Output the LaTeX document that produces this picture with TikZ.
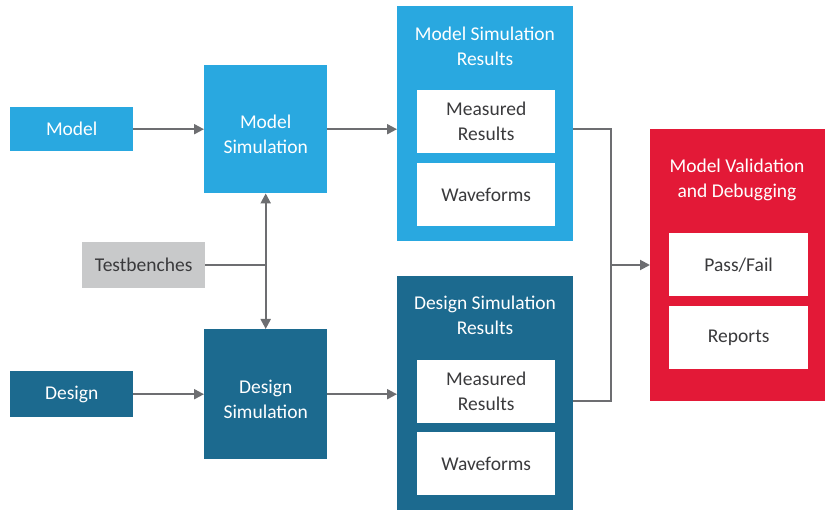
\documentclass[tikz,border=0pt]{standalone}
\usepackage{fontspec}
\setmainfont{Carlito}
\usetikzlibrary{arrows.meta}
\definecolor{lblue}{HTML}{29A8E0}
\definecolor{dblue}{HTML}{1C6A8F}
\definecolor{vred}{HTML}{E31937}
\definecolor{lgray}{HTML}{C8C9CA}
\definecolor{agray}{HTML}{6D6E71}
\definecolor{tgray}{HTML}{3A3A3C}
\tikzset{
  box/.style={rectangle, inner sep=0pt, anchor=north west, align=center, font=\fontsize{19.5}{25}\selectfont},
  lbox/.style={box, fill=lblue, text=white},
  dbox/.style={box, fill=dblue, text=white},
  gbox/.style={box, fill=lgray, text=tgray},
  wbox/.style={box, fill=white, text=tgray},
  title/.style={align=center, text=white, font=\fontsize{19.5}{25}\selectfont},
  simtext/.style={label={[title, yshift=-5pt]center:#1}},
  conn/.style={draw=agray, line width=2pt, -{Triangle[length=10pt,width=10pt]}},
  wire/.style={draw=agray, line width=2pt}
}
\begin{document}
\begin{tikzpicture}[x=1pt,y=-1pt]
	\useasboundingbox (0,0) rectangle (825,510);

	% inputs
	\node[lbox, minimum width=123pt, minimum height=44pt] (model) at (10,107) {Model};
	\node[gbox, minimum width=123pt, minimum height=46pt] (tb) at (82,242) {Testbenches};
	\node[dbox, minimum width=123pt, minimum height=46pt] (design) at (10,371) {Design};

	% simulations
	\node[lbox, minimum width=123pt, minimum height=128pt, simtext={Model\\Simulation}] (msim) at (204,65) {};
	\node[dbox, minimum width=123pt, minimum height=130pt, simtext={Design\\Simulation}] (dsim) at (204,329) {};

	% results
	\node[lbox, minimum width=176pt, minimum height=235pt] (msr) at (397,6) {};
	\node[title] (msrt) at (485,46) {Model Simulation\\Results};
	\node[wbox, minimum width=138pt, minimum height=63pt] (mmeas) at (417,90) {Measured\\Results};
	\node[wbox, minimum width=138pt, minimum height=63pt] (mwave) at (417,163) {Waveforms};

	\node[dbox, minimum width=176pt, minimum height=234pt] (dsr) at (397,276) {};
	\node[title] (dsrt) at (485,315) {Design Simulation\\Results};
	\node[wbox, minimum width=138pt, minimum height=63pt] (dmeas) at (417,360) {Measured\\Results};
	\node[wbox, minimum width=138pt, minimum height=63pt] (dwave) at (417,432) {Waveforms};

	% validation
	\node[box, fill=vred, minimum width=175pt, minimum height=272pt] (mvd) at (650,129) {};
	\node[title] (mvdt) at (737,180) {Model Validation\\and Debugging};
	\node[wbox, minimum width=139pt, minimum height=63pt] (pass) at (669,233) {Pass/Fail};
	\node[wbox, minimum width=139pt, minimum height=63pt] (rep) at (669,306) {Reports};

	% connectors
	\draw[conn] (model) -- (msim);
	\draw[conn] (msim) -- (msim -| msr.west);
	\draw[conn] (design) -- (dsim);
	\draw[conn] (dsim) -- (dsim -| dsr.west);

	\coordinate (junc) at (msim.south |- tb.east);
	\draw[wire] (tb.east) -- (junc);
	\draw[conn] (junc) -- (msim.south);
	\draw[conn] (junc) -- (dsim.north);

	\coordinate (merge) at (611,265);
	\draw[wire] (msr.east |- msim.east) -| (merge);
	\draw[wire] (dsr.east |- 0,401) -| (merge);
	\draw[conn] (merge) -- (mvd.west |- merge);
\end{tikzpicture}
\end{document}
